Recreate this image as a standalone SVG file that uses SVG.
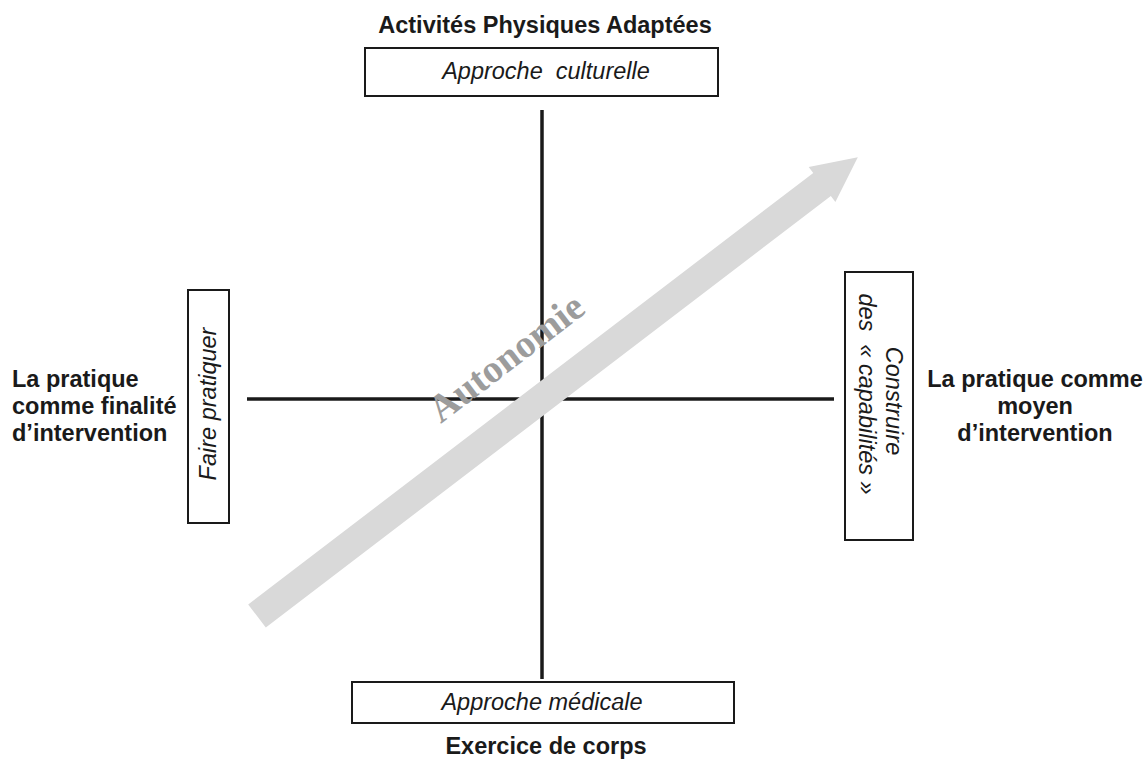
<svg xmlns="http://www.w3.org/2000/svg" width="1146" height="760" viewBox="0 0 1146 760">
<style>
.lbl{font-family:"Liberation Sans",Arial,sans-serif;font-weight:bold;font-size:23.5px;fill:#1a1a1a}
.it{font-family:"Liberation Sans",Arial,sans-serif;font-style:italic;font-size:23.5px;fill:#1a1a1a;white-space:pre}
.box{fill:#fff;stroke:#1a1a1a;stroke-width:2}
.axis{stroke:#1a1a1a;stroke-width:3.5;fill:none}
</style>
<rect width="1146" height="760" fill="#fff"/>
<g id="connectors">
<line class="axis" x1="542" y1="110" x2="542" y2="679"/>
<line class="axis" x1="247" y1="399" x2="834" y2="399"/>
</g>
<g id="arrow">
<path transform="translate(257,616) rotate(-37.37)" d="M0,-14.5 L711,-14.5 L711,-22 L756,0 L711,22 L711,14.5 L0,14.5 Z" fill="#d9d9d9"/>
<text transform="translate(514,368) rotate(-37.4)" text-anchor="middle" font-family="'Liberation Serif','Times New Roman',serif" font-weight="bold" font-size="39" fill="#9c9c9c">Autonomie</text>
</g>
<g id="top">
<text class="lbl" x="545" y="33" text-anchor="middle">Activités Physiques Adaptées</text>
<rect class="box" x="365" y="48" width="353" height="48"/>
<text class="it" x="546" y="79" text-anchor="middle">Approche  culturelle</text>
</g>
<g id="bottom">
<rect class="box" x="352" y="682" width="382" height="41"/>
<text class="it" x="542" y="710" text-anchor="middle">Approche médicale</text>
<text class="lbl" x="546" y="754" text-anchor="middle">Exercice de corps</text>
</g>
<g id="left">
<rect class="box" x="188" y="290" width="41" height="233"/>
<text class="it" transform="translate(216,404) rotate(-90)" text-anchor="middle">Faire pratiquer</text>
<text class="lbl" x="12" y="387">La pratique</text>
<text class="lbl" x="12" y="414">comme finalité</text>
<text class="lbl" x="12" y="441">d’intervention</text>
</g>
<g id="right">
<rect class="box" x="845" y="272" width="68" height="268"/>
<text class="it" transform="translate(886,401) rotate(90)" text-anchor="middle">Construire</text>
<text class="it" transform="translate(859,394) rotate(90)" text-anchor="middle">des  « capabilités »</text>
<text class="lbl" x="1035" y="387" text-anchor="middle">La pratique comme</text>
<text class="lbl" x="1035" y="414" text-anchor="middle">moyen</text>
<text class="lbl" x="1035" y="441" text-anchor="middle">d’intervention</text>
</g>
</svg>
